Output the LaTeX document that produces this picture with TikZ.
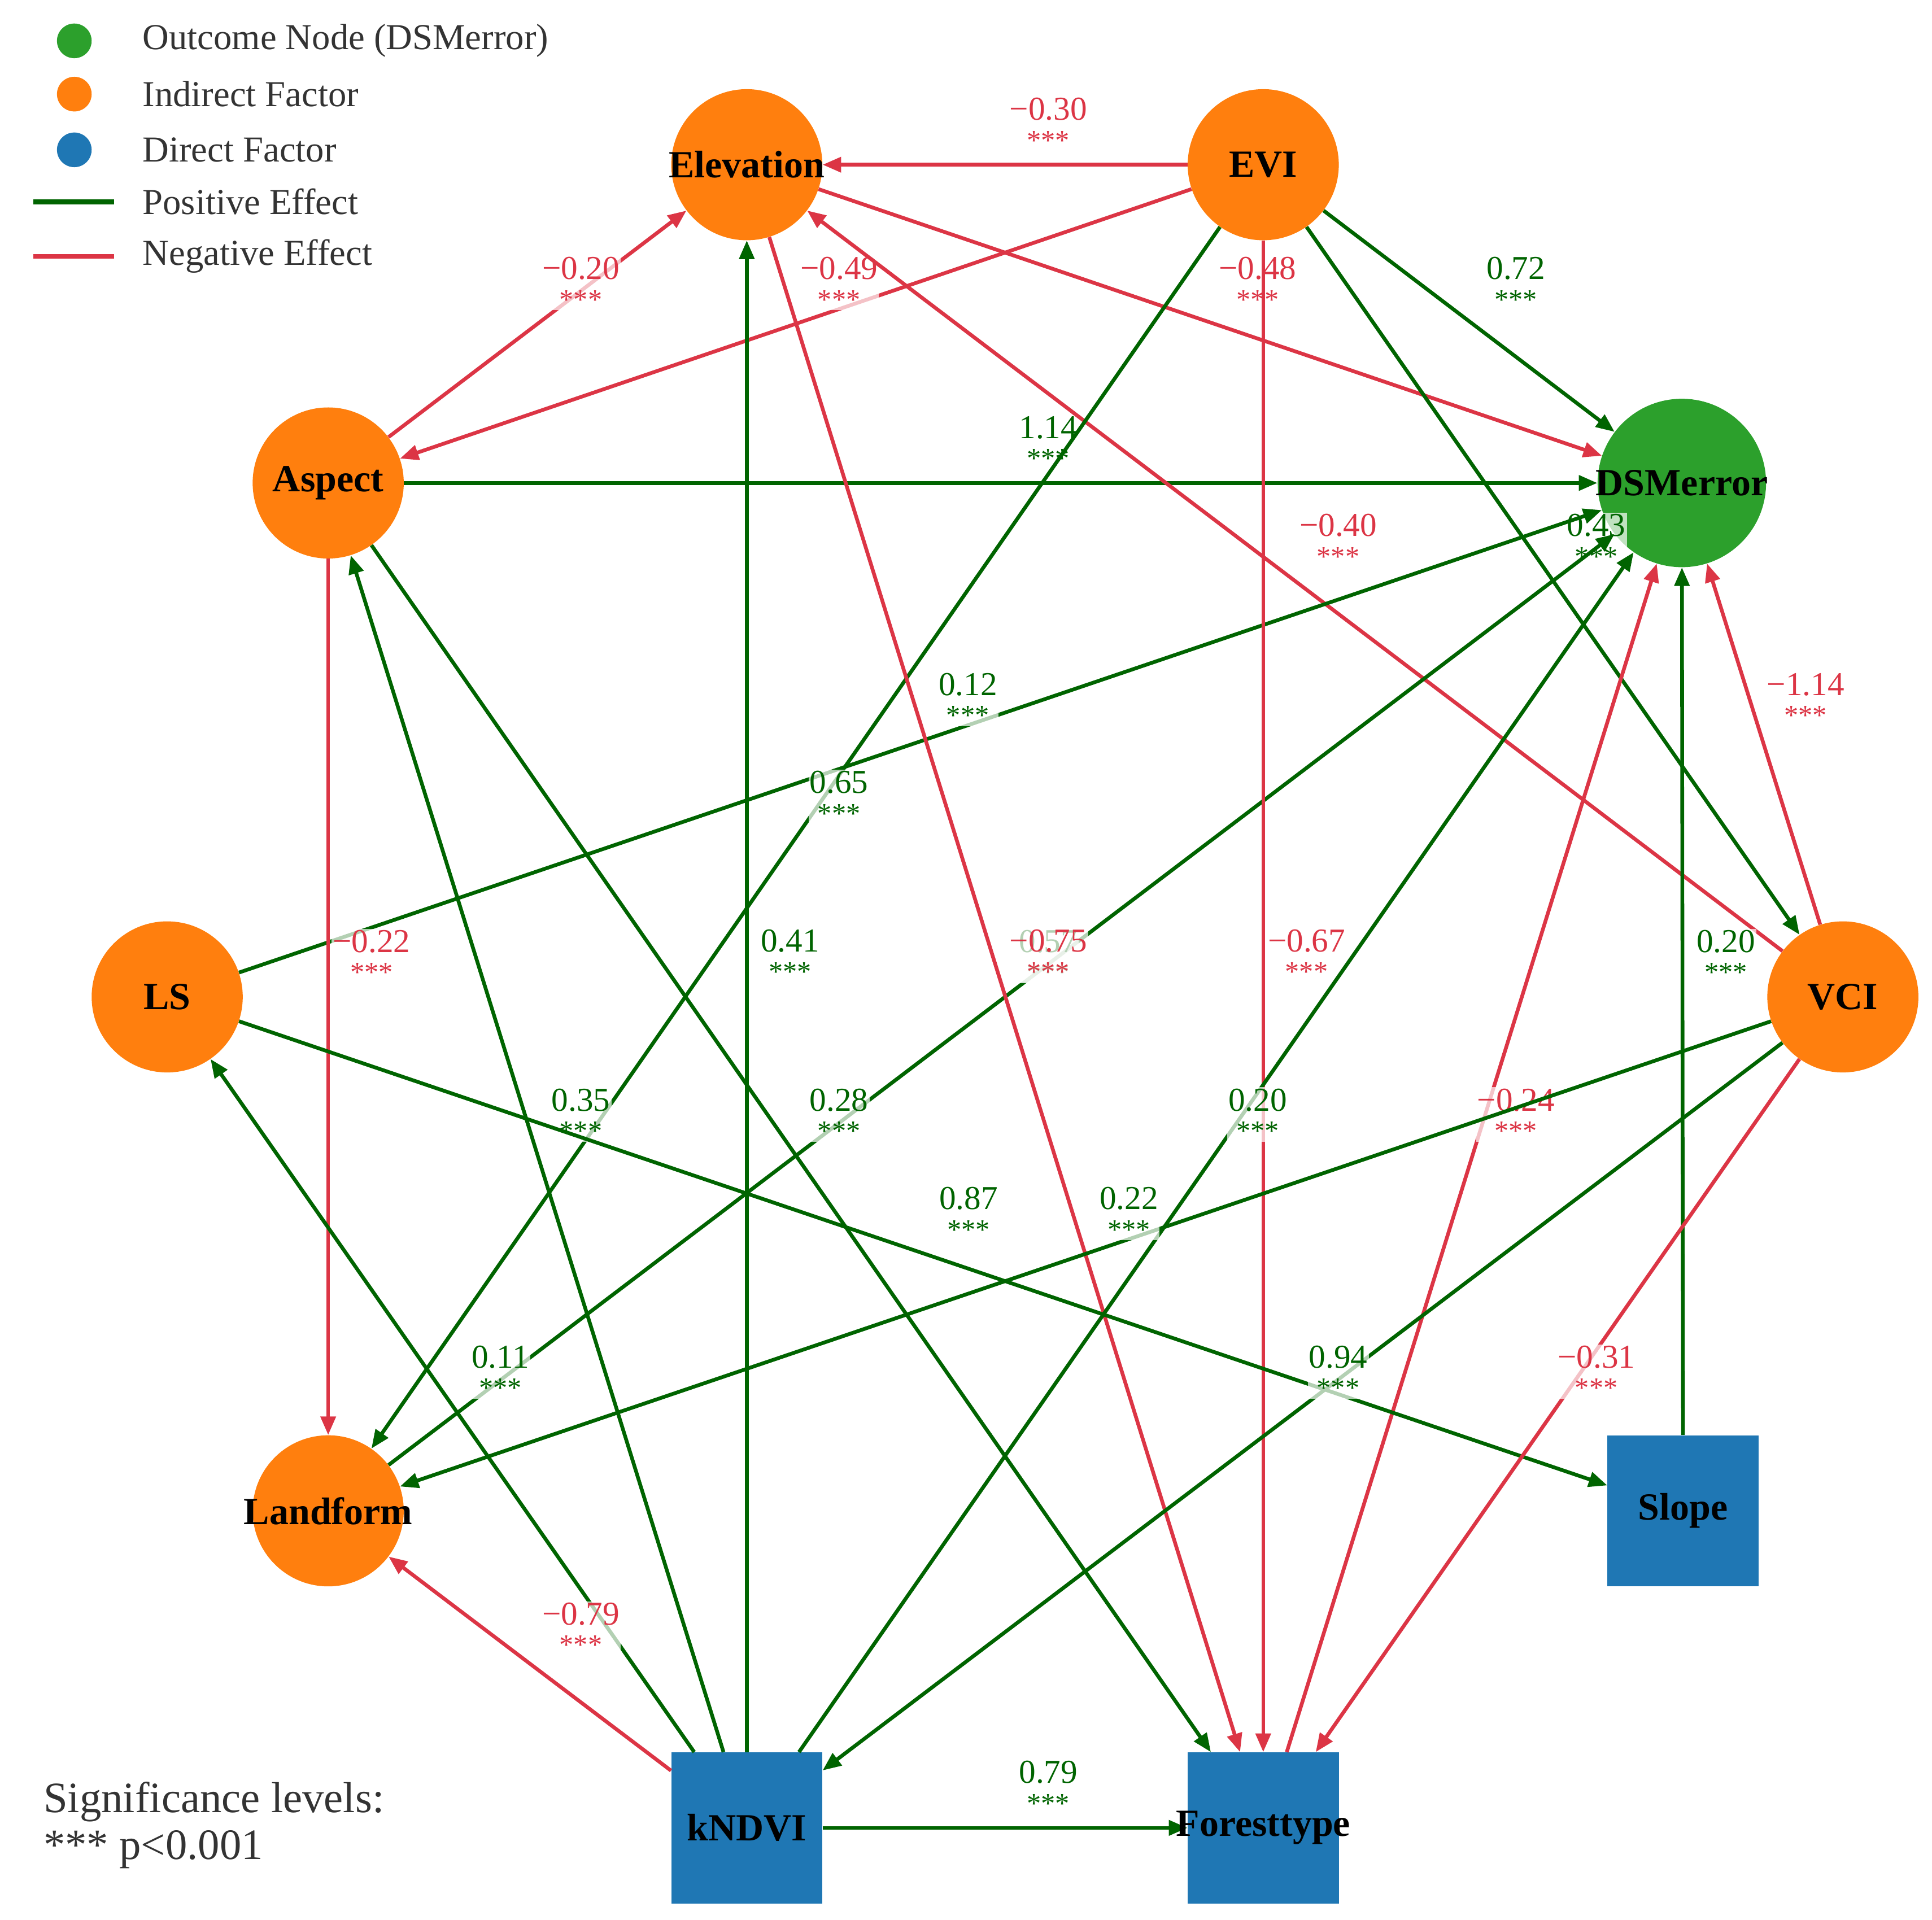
\documentclass[tikz,border=0pt]{standalone}
\usepackage{fontspec}
\setmainfont{Liberation Serif}
\usetikzlibrary{arrows.meta,calc}
\definecolor{pg}{HTML}{006400}
\definecolor{ng}{HTML}{DC3545}
\definecolor{cor}{HTML}{FF7F0E}
\definecolor{cgr}{HTML}{2CA02C}
\definecolor{cbl}{HTML}{1F77B4}
\tikzset{
  onode/.style={circle,fill=cor,minimum size=122pt,inner sep=0pt},
  gnode/.style={circle,fill=cgr,minimum size=136pt,inner sep=0pt},
  bnode/.style={rectangle,fill=cbl,minimum size=122pt,inner sep=0pt},
  nlab/.style={font=\fontsize{31}{34}\selectfont\bfseries,text=black,inner sep=0pt},
  edg/.style={line width=3pt,-{Triangle[length=15pt,width=12pt]}},
  elab/.style={font=\fontsize{27}{24}\selectfont,align=center,fill=white,fill opacity=0.7,text opacity=1,inner sep=1pt},
  legt/.style={font=\fontsize{29.5}{32}\selectfont,anchor=west,text=black!80,inner sep=0pt}
}
\newcommand\myedge[4]{%
  \draw[edg,#3] (#1) -- (#2);
  \path ($(#1)!0.5!(#2)$) ++(35,-33) node[elab,text=#3] {#4\\{\fontsize{23}{24}\selectfont ***}};
}
\begin{document}
\begin{tikzpicture}[x=1pt,y=-1pt]
\useasboundingbox (0,0) rectangle (1560,1550);
% nodes
\node[onode] (Elev) at (603,133) {};
\node[onode] (EVI) at (1020,133) {};
\node[gnode] (DSM) at (1358,390) {};
\node[onode] (Aspect) at (265,390) {};
\node[onode] (LS) at (135,805) {};
\node[onode] (VCI) at (1488,805) {};
\node[onode] (Landform) at (265,1220) {};
\node[bnode] (Slope) at (1359,1220) {};
\node[bnode] (kNDVI) at (603,1476) {};
\node[bnode] (Forest) at (1020,1476) {};
% edges
\myedge{EVI}{Elev}{ng}{−0.30}
\myedge{Aspect}{Elev}{ng}{−0.20}
\myedge{EVI}{Aspect}{ng}{−0.49}
\myedge{Elev}{DSM}{ng}{−0.48}
\myedge{EVI}{DSM}{pg}{0.72}
\myedge{Aspect}{DSM}{pg}{1.14}
\myedge{VCI}{Elev}{ng}{−0.40}
\myedge{EVI}{VCI}{pg}{0.43}
\myedge{VCI}{DSM}{ng}{−1.14}
\myedge{LS}{DSM}{pg}{0.12}
\myedge{EVI}{Landform}{pg}{0.65}
\myedge{Aspect}{Landform}{ng}{−0.22}
\myedge{kNDVI}{Elev}{pg}{0.41}
\myedge{Landform}{DSM}{pg}{0.57}
\myedge{Elev}{Forest}{ng}{−0.75}
\myedge{EVI}{Forest}{ng}{−0.67}
\myedge{Slope}{DSM}{pg}{0.20}
\myedge{kNDVI}{Aspect}{pg}{0.35}
\myedge{Aspect}{Forest}{pg}{0.28}
\myedge{kNDVI}{DSM}{pg}{0.20}
\myedge{Forest}{DSM}{ng}{−0.24}
\myedge{LS}{Slope}{pg}{0.87}
\myedge{VCI}{Landform}{pg}{0.22}
\myedge{kNDVI}{LS}{pg}{0.11}
\myedge{VCI}{kNDVI}{pg}{0.94}
\myedge{VCI}{Forest}{ng}{−0.31}
\myedge{kNDVI}{Landform}{ng}{−0.79}
\myedge{kNDVI}{Forest}{pg}{0.79}
% node labels
\node[nlab] at (Elev) {Elevation};
\node[nlab] at (EVI) {EVI};
\node[nlab] at (DSM) {DSMerror};
\node[nlab] at (Aspect) {Aspect};
\node[nlab] at (LS) {LS};
\node[nlab] at (VCI) {VCI};
\node[nlab] at (Landform) {Landform};
\node[nlab] at (Slope) {Slope};
\node[nlab] at (kNDVI) {kNDVI};
\node[nlab] at (Forest) {Foresttype};
% legend
\fill[cgr] (60,33) circle (14);
\fill[cor] (60,76) circle (14);
\fill[cbl] (60,121) circle (14);
\draw[pg,line width=4pt] (27,163) -- (92,163);
\draw[ng,line width=4pt] (27,207) -- (92,207);
\node[legt] (l1) at (115,33) {Outcome Node (DSMerror)};
\node[legt] (l2) at (115,76) {Indirect Factor};
\node[legt] (l3) at (115,121) {Direct Factor};
\node[legt] (l4) at (115,163) {Positive Effect};
\node[legt] (l5) at (115,207) {Negative Effect};
\node[font=\fontsize{35}{38}\selectfont,align=left,anchor=west,text=black!80,inner sep=0pt] (sig) at (35,1474) {Significance levels:\\*** p<0.001};
\end{tikzpicture}
\end{document}
